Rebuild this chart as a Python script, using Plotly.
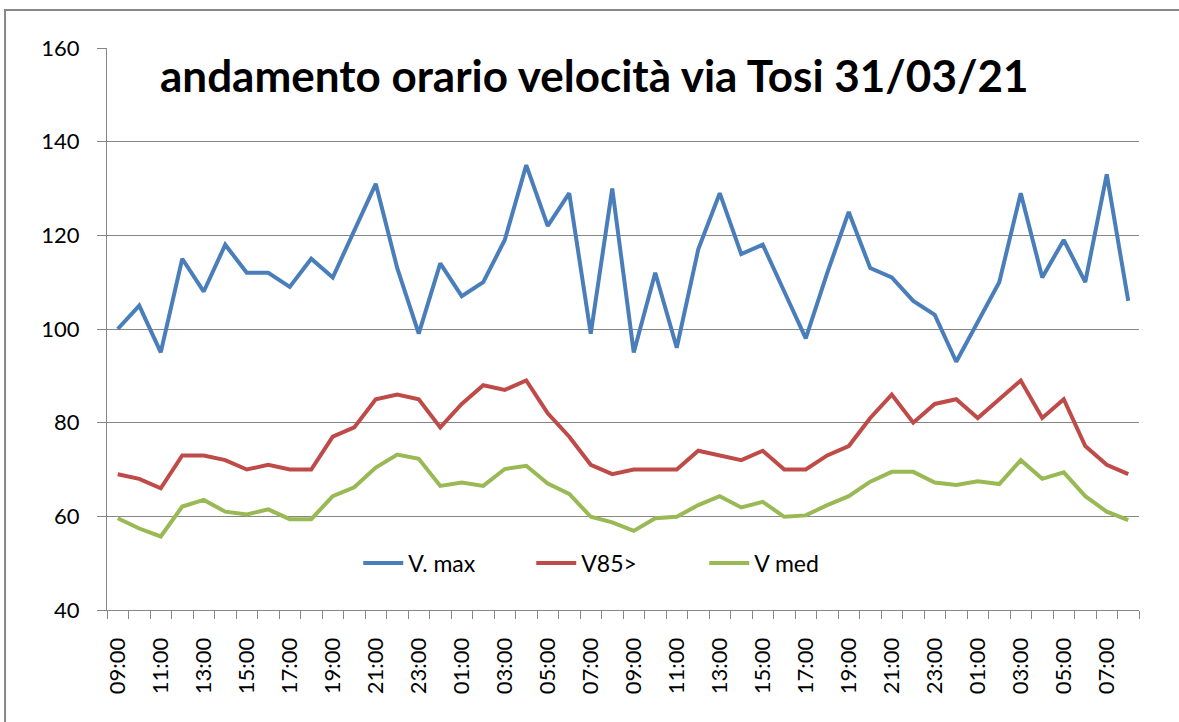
import plotly.graph_objects as go

hours = ["09:00", "10:00", "11:00", "12:00", "13:00", "14:00", "15:00", "16:00",
         "17:00", "18:00", "19:00", "20:00", "21:00", "22:00", "23:00", "00:00",
         "01:00", "02:00", "03:00", "04:00", "05:00", "06:00", "07:00", "08:00"] * 2

v_max = [100, 105, 95, 115, 108, 118, 112, 112, 109, 115, 111, 121, 131, 113, 99, 114,
         107, 110, 119, 135, 122, 129, 99, 130, 95, 112, 96, 117, 129, 116, 118, 108,
         98, 112, 125, 113, 111, 106, 103, 93, 101.5, 110, 129, 111, 119, 110, 133, 106]
v85 = [69, 68, 66, 73, 73, 72, 70, 71, 70, 70, 77, 79, 85, 86, 85, 79,
       84, 88, 87, 89, 82, 77, 71, 69, 70, 70, 70, 74, 73, 72, 74, 70,
       70, 73, 75, 81, 86, 80, 84, 85, 81, 85, 89, 81, 85, 75, 71, 69]
v_med = [59.6, 57.4, 55.7, 62.1, 63.5, 61.0, 60.4, 61.5, 59.4, 59.4, 64.3, 66.2, 70.4, 73.2, 72.3, 66.5,
         67.2, 66.5, 70.1, 70.8, 67.0, 64.8, 59.9, 58.7, 56.9, 59.6, 59.9, 62.4, 64.3, 61.9, 63.1, 59.9,
         60.2, 62.4, 64.3, 67.4, 69.5, 69.5, 67.2, 66.7, 67.5, 66.9, 72.0, 68.0, 69.4, 64.3, 61.0, 59.2]

series_names = ["V. max", "V85>", "V med"]
series_colors = ["#4a7ebb", "#be4b48", "#98b954"]

title_text = "andamento orario velocità via Tosi 31/03/21"

idx = list(range(len(hours)))
tick_idx = idx[::2]
tick_txt = [hours[i] for i in tick_idx]

fig = go.Figure()
for name, vals, col in zip(series_names, [v_max, v85, v_med], series_colors):
    fig.add_trace(go.Scatter(x=idx, y=vals, mode="lines", name=name,
                             line=dict(color=col, width=4), hoverinfo="y"))

L, R, T, B = 107, 39.5, 48, 112
W, H = 1179, 722
pw = W - L - R
ph = H - T - B

fig.update_layout(
    width=W, height=H,
    margin=dict(l=L, r=R, t=T, b=B, pad=0),
    paper_bgcolor="white", plot_bgcolor="white",
    font=dict(family="Lato, Roboto, sans-serif", size=22, color="#000000"),
    showlegend=True,
    legend=dict(orientation="h", x=(618 - L) / pw, y=(ph - (563 - T)) / ph, xanchor="center",
                yanchor="middle", bgcolor="rgba(0,0,0,0)",
                font=dict(size=23), itemwidth=40, entrywidth=118),
    xaxis=dict(range=[-0.5, len(idx) - 0.5], tickmode="array", tickvals=tick_idx,
               ticktext=tick_txt, tickangle=-90, showgrid=False, zeroline=False,
               showline=True, linecolor="#868686", linewidth=1,
               ticks="outside", ticklen=0, tickcolor="#868686",
               ticklabelstandoff=18,
               minor=dict(ticks="outside", ticklen=8, tickcolor="#868686",
                          tick0=-0.5, dtick=1, showgrid=False)),
    yaxis=dict(range=[40, 160], dtick=20, tick0=40, showgrid=True, gridcolor="#868686",
               gridwidth=1, zeroline=False, showline=True, linecolor="#868686",
               linewidth=1, ticks="outside", ticklen=9, tickcolor="#868686",
               ticklabelstandoff=13),
    annotations=[dict(text="<b>" + title_text + "</b>", xref="paper", yref="paper",
                      x=(594 - L) / pw, y=(ph - (75 - T)) / ph, xanchor="center",
                      yanchor="middle", showarrow=False,
                      font=dict(family="Lato, sans-serif", size=44, color="#000000"))],
    shapes=[dict(type="rect", xref="paper", yref="paper",
                 x0=(5 - L) / pw, x1=(W + 20 - L) / pw,
                 y0=(ph - (H + 20 - T)) / ph, y1=(ph - (10 - T)) / ph,
                 line=dict(color="#868686", width=2), fillcolor="rgba(0,0,0,0)",
                 layer="below")],
)

fig.write_html("out.html", config={"displayModeBar": False},
               post_script="document.body.style.margin='0';document.body.style.overflow='hidden';")
